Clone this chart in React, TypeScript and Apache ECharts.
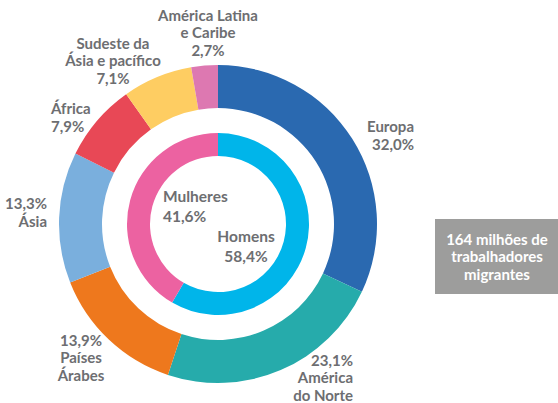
import React, { useEffect, useRef } from "react";
import * as echarts from "echarts";

const regionNames = [
  "Europa",
  "América\ndo Norte",
  "Países\nÁrabes",
  "Ásia",
  "África",
  "Sudeste da\nÁsia e pacífico",
  "América Latina\ne Caribe",
];
const regionValues = [32.0, 23.1, 13.9, 13.3, 7.9, 7.1, 2.7];
const genderNames = ["Homens", "Mulheres"];
const genderValues = [58.4, 41.6];
const boxText = "164 milhões de\ntrabalhadores\nmigrantes";

const regionColors = ["#2a69b0", "#26abab", "#ee781d", "#7aafdd", "#e84856", "#fecd62", "#dd78b1"];
const genderColors = ["#00b5ea", "#ec62a1"];
// label placement (x, y, align) and whether value comes before name
const regionLabelPos: [number, number, string, boolean][] = [
  [414, 135, "right", false],
  [353, 377, "right", true],
  [81, 357, "center", true],
  [47, 212, "right", true],
  [51, 117, "left", false],
  [113, 60, "center", false],
  [208, 32, "center", false],
];
const genderLabelPos: [number, number, string][] = [
  [246, 246, "center"],
  [163, 206, "left"],
];

const fmt = (v: number) => v.toFixed(1).replace(".", ",") + "%";

export default function App() {
  const ref = useRef<HTMLDivElement>(null);
  useEffect(() => {
    document.body.style.margin = "0";
    const chart = echarts.init(ref.current!, undefined, { renderer: "svg" });
    const labelStyle = {
      color: "#6d6e71",
      fontFamily: "Lato",
      fontWeight: "bold" as const,
      fontSize: 15,
      lineHeight: 17.5,
      overflow: "none" as const,
    };
    chart.setOption({
      animation: false,
      series: [
        {
          type: "pie",
          center: [218, 224],
          radius: [116, 159],
          startAngle: 90,
          clockwise: true,
          silent: true,
          data: regionNames.map((n, i) => ({
            name: n,
            value: regionValues[i],
            itemStyle: { color: regionColors[i] },
          })),
          label: {
            show: true,
            position: "outside",
            ...labelStyle,
            formatter: (p: any) =>
              regionLabelPos[p.dataIndex][3]
                ? fmt(p.value) + "\n" + p.name
                : p.name + "\n" + fmt(p.value),
          },
          labelLine: { show: false },
          labelLayout: (p: any) => {
            const pos = regionLabelPos[p.dataIndex];
            return { x: pos[0], y: pos[1], align: pos[2], verticalAlign: "middle" };
          },
        },
        {
          type: "pie",
          center: [218, 224],
          radius: [68, 91],
          startAngle: 90,
          clockwise: true,
          silent: true,
          data: genderNames.map((n, i) => ({
            name: n,
            value: genderValues[i],
            itemStyle: { color: genderColors[i] },
          })),
          label: {
            show: true,
            position: "outside",
            ...labelStyle,
            fontSize: 15.5,
            lineHeight: 20,
            formatter: (p: any) => p.name + "\n" + fmt(p.value),
          },
          labelLine: { show: false },
          labelLayout: (p: any) => {
            const pos = genderLabelPos[p.dataIndex];
            return { x: pos[0], y: pos[1], align: pos[2], verticalAlign: "middle" };
          },
        },
      ],
      graphic: [
        {
          type: "rect",
          shape: { x: 435, y: 219, width: 123, height: 75 },
          style: { fill: "#9d9d9c" },
        },
        {
          type: "text",
          x: 497,
          y: 256,
          style: {
            text: boxText,
            fill: "#ffffff",
            font: "bold 15px Lato",
            lineHeight: 17.5,
            align: "center",
            verticalAlign: "middle",
          },
        },
      ],
    });
    return () => chart.dispose();
  }, []);
  return <div ref={ref} style={{ width: 558, height: 403 }} />;
}
